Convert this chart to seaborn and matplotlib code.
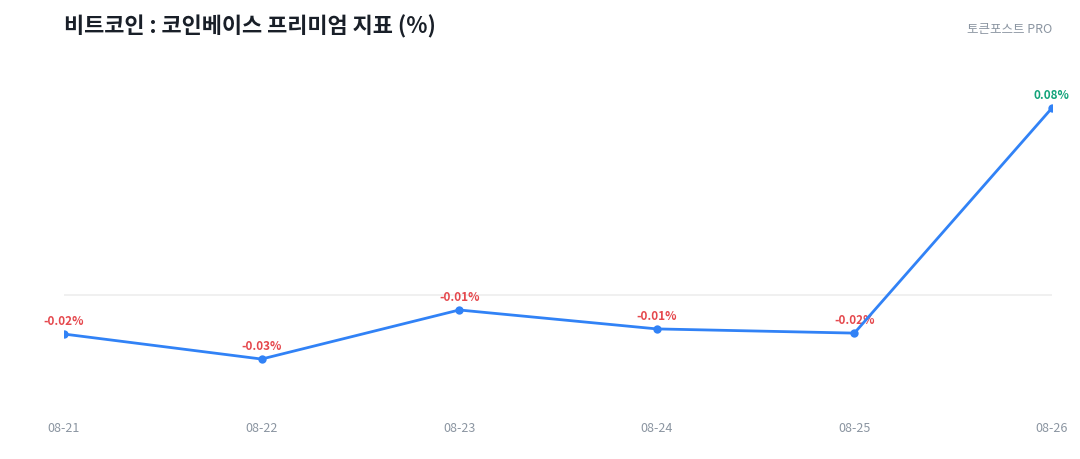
import matplotlib
matplotlib.use("Agg")
import matplotlib.pyplot as plt
import pandas as pd
import seaborn as sns

sns.set_theme(style="white")
plt.rcParams["font.family"] = ["Noto Sans CJK KR", "DejaVu Sans"]

dates = ["08-21", "08-22", "08-23", "08-24", "08-25", "08-26"]
premium = [-0.0167, -0.0274, -0.0064, -0.0145, -0.0163, 0.080]
labels = ["-0.02%", "-0.03%", "-0.01%", "-0.01%", "-0.02%", "0.08%"]

BLUE = "#3182f6"
RED = "#e5484d"
GREEN = "#12a37a"
GRAY = "#8b95a1"

df = pd.DataFrame({"date": dates, "premium": premium})
df["x"] = range(len(df))

fig = plt.figure(figsize=(10.8, 4.6), dpi=100)
ax = fig.add_axes([0.0593, 0.1304, 0.9147, 0.7392])

ax.axhline(0, color="#eeeeee", lw=1.2, zorder=1)
sns.lineplot(data=df, x="x", y="premium", ax=ax, color=BLUE, lw=2,
             marker="o", markersize=6, markeredgewidth=0, zorder=4)

for xi, yi, lab in zip(df["x"], df["premium"], labels):
    c = GREEN if yi > 0 else RED
    ax.annotate(lab, (xi, yi), xytext=(0, 10), textcoords="offset points",
                ha="center", va="center", fontsize=8.5, fontweight="bold",
                color=c, zorder=3)

ax.set_xlim(0, len(dates) - 1)
ax.set_ylim(-0.0445, 0.101)
ax.set_xticks(df["x"])
ax.set_xticklabels(dates, color=GRAY, fontsize=9)
ax.tick_params(axis="x", length=0, pad=16)
ax.set_yticks([])
ax.set_xlabel("")
ax.set_ylabel("")
sns.despine(ax=ax, left=True, bottom=True)

fig.text(64 / 1080, 1 - 27 / 460, "비트코인 : 코인베이스 프리미엄 지표 (%)",
         fontsize=15.8, fontweight="bold", color="#191f28", va="center", ha="left")
fig.text(1052 / 1080, 1 - 30 / 460, "토큰포스트 PRO",
         fontsize=9, color=GRAY, va="center", ha="right")

fig.savefig("out.png", dpi=100)
